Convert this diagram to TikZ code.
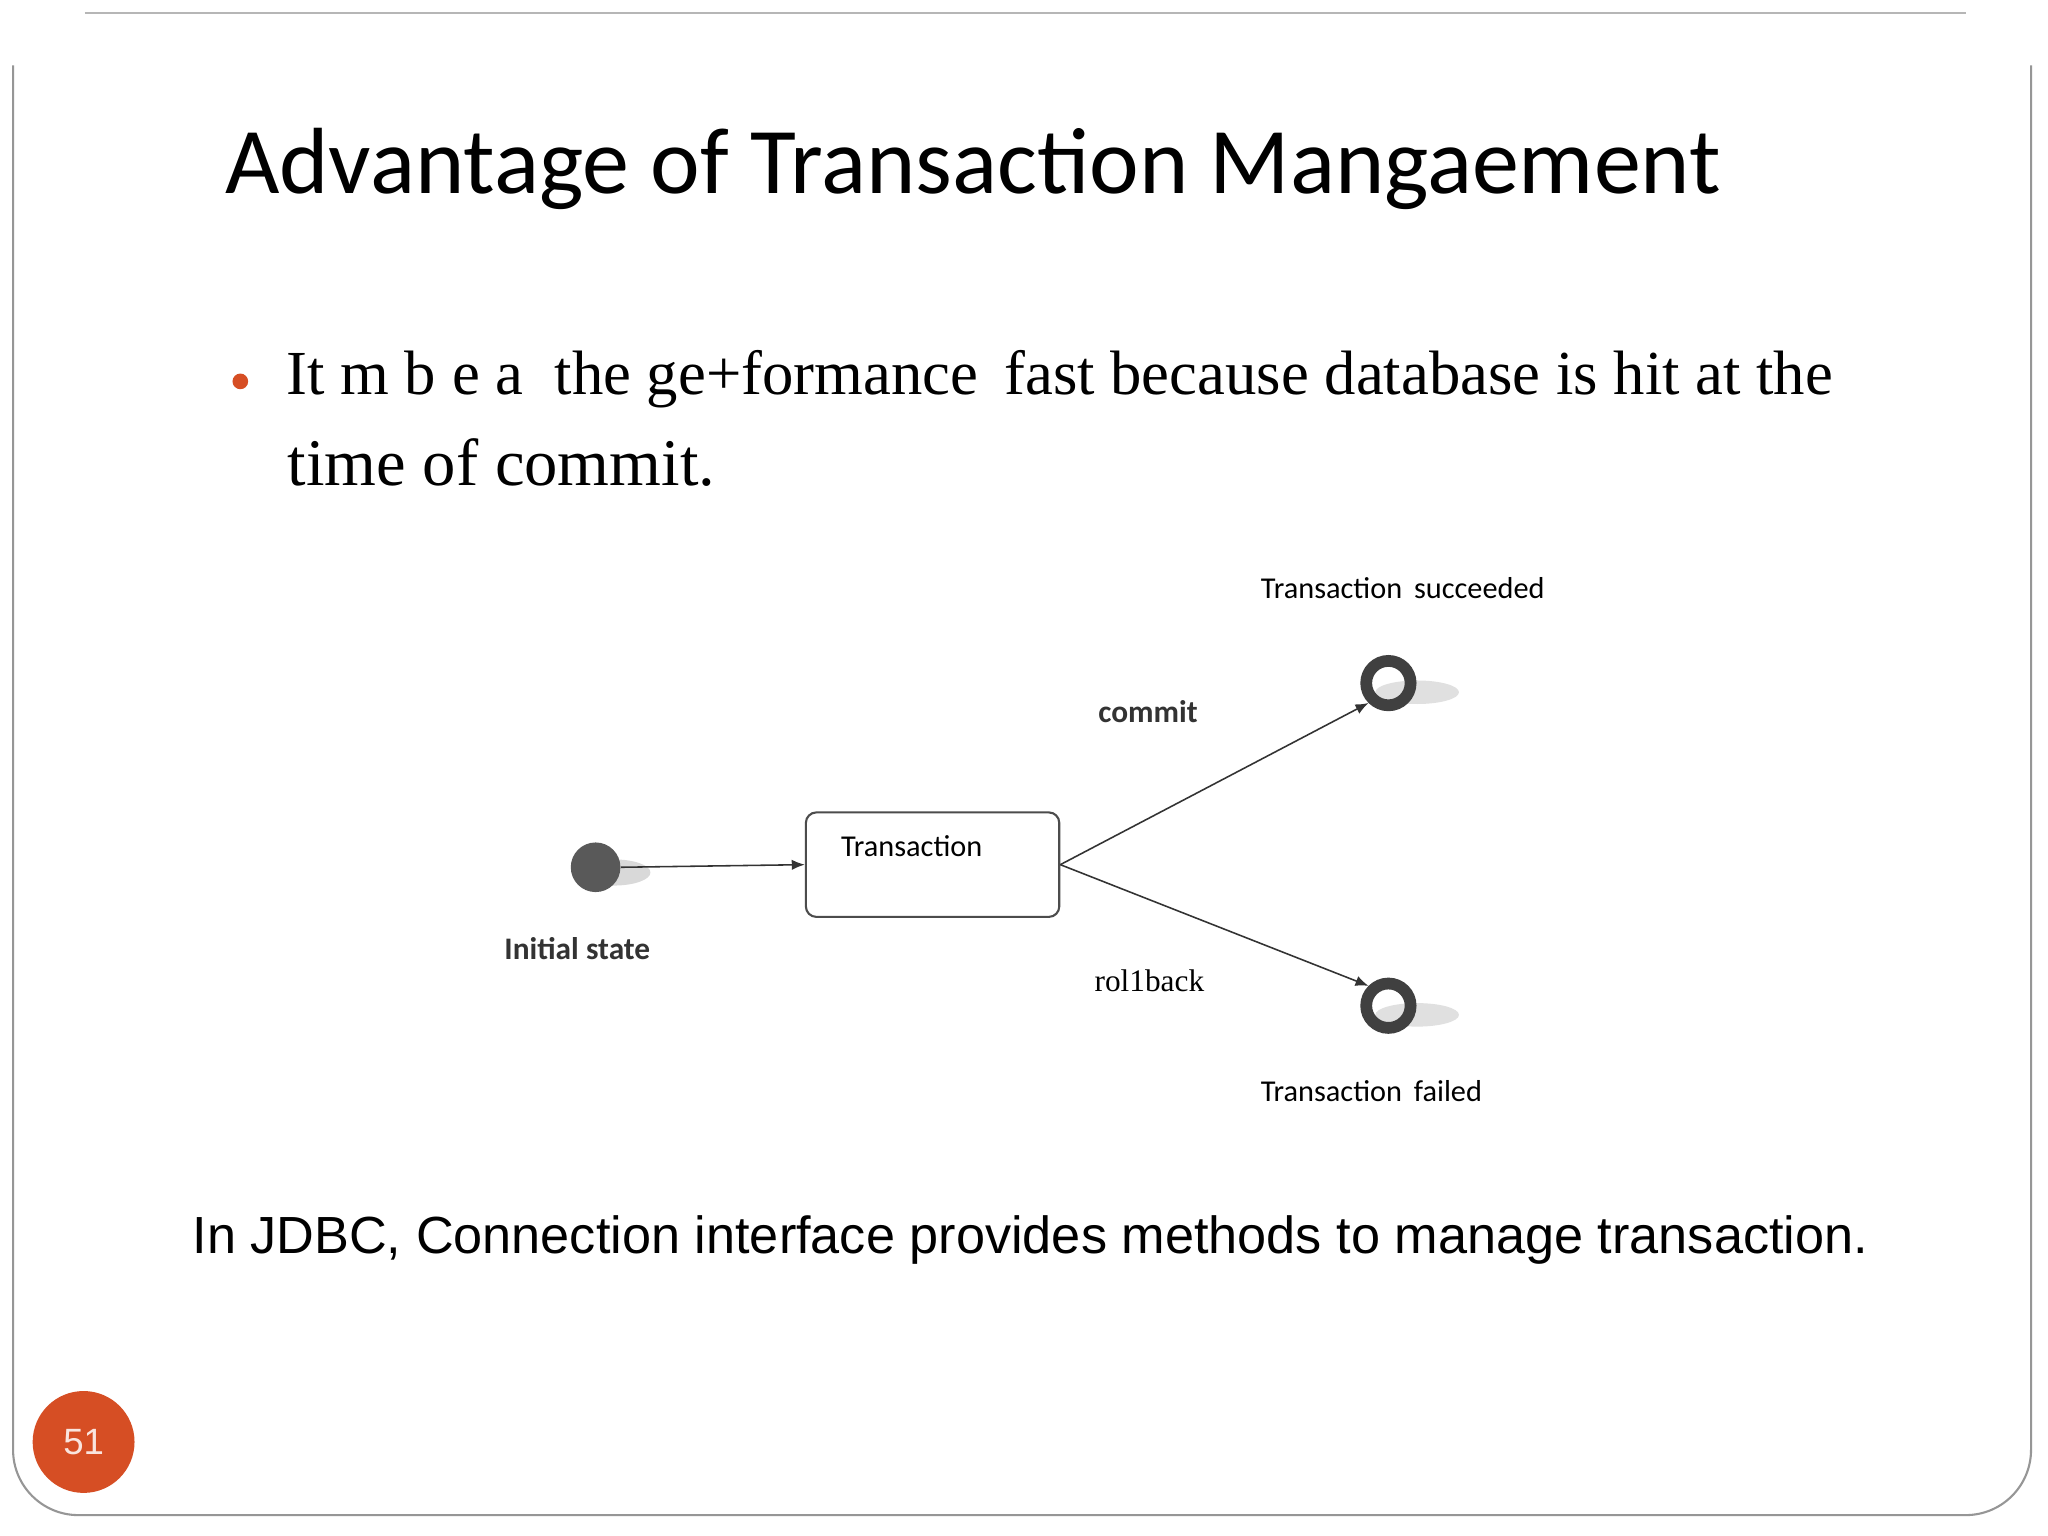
\documentclass[tikz,border=0pt]{standalone}
\usepackage{fontspec}
\setmainfont{Liberation Serif}
\newfontfamily\carl{Carlito}
\newfontfamily\arial{Liberation Sans}
\usetikzlibrary{arrows.meta}
\definecolor{orng}{RGB}{214,78,36}
\definecolor{frame}{RGB}{150,150,150}
\begin{document}
\begin{tikzpicture}[x=0.5pt,y=-0.5pt,
  lbl/.style={font=\carl\fontsize{11.6}{13}\selectfont,inner sep=0},
  conn/.style={draw=black!80,line width=0.6pt,-{Latex[length=5pt,width=4pt]}},
  ring/.style={circle,draw=black!75,line width=4.5pt,minimum size=17pt,inner sep=0}]
\useasboundingbox (0,0) rectangle (1568,1176);
\fill[white] (0,0) rectangle (1568,1176);
\draw[frame!70,line width=0.6pt] (65,10) -- (1505,10);
\draw[frame,line width=0.8pt,rounded corners=25pt] (10,50) -- (10,1160) -- (1555,1160) -- (1555,50);
\node[anchor=base west,inner sep=0,font=\carl\fontsize{36}{42}\selectfont] (title) at (172,148) {Advantage of Transaction Mangaement};
\fill[orng] (184,292) circle (6);
\node[anchor=base west,inner sep=0,font=\fontsize{24}{28}\selectfont] (b1) at (219,302) {It m b e a \ the ge+formance \,fast because database is hit at the};
\node[anchor=base west,inner sep=0,font=\fontsize{25.5}{30}\selectfont] (b2) at (220,372) {time of commit.};
% diagram
\fill[black!15] (470,668) ellipse (28 and 10);
\node[circle,fill=black!65,minimum size=19pt,inner sep=0] (init) at (456,664) {};
\node[lbl,font=\carl\bfseries\fontsize{12}{14}\selectfont,text=black!80] (initl) at (442,726) {Initial state};
\node[draw=black!70,line width=0.8pt,rounded corners=4pt,minimum width=97pt,minimum height=40pt,inner sep=0] (tr) at (714,662) {};
\node[lbl] (trl) at (698,648) {Transaction};
\fill[black!12] (1085,530) ellipse (32 and 9);
\fill[black!12] (1085,777) ellipse (32 and 9);
\node[ring] (succ) at (1063,523) {};
\node[ring] (fail) at (1063,770) {};
\draw[conn] (tr.east) -- (succ.south west);
\draw[conn] (tr.east) -- (fail.north west);
\draw[conn] (init.east) -- (tr.west);
\node[lbl,font=\carl\bfseries\fontsize{12}{14}\selectfont,text=black!80] (cm) at (879,545) {commit};
\node[lbl,font=\fontsize{12}{14}\selectfont] (rb) at (880,751) {rol1back};
\node[lbl] (sl) at (1074,450) {Transaction \,succeeded};
\node[lbl] (fl) at (1050,835) {Transaction \,failed};
\node[anchor=base west,inner sep=0,font=\arial\fontsize{20}{24}\selectfont] (jd) at (147,960) {In JDBC, Connection interface provides methods to manage transaction.};
\node[circle,fill=orng,minimum size=39pt,inner sep=0,text=white!85!orng,font=\arial\fontsize{14}{16}\selectfont] (pg) at (64,1104) {51};
\end{tikzpicture}
\end{document}
